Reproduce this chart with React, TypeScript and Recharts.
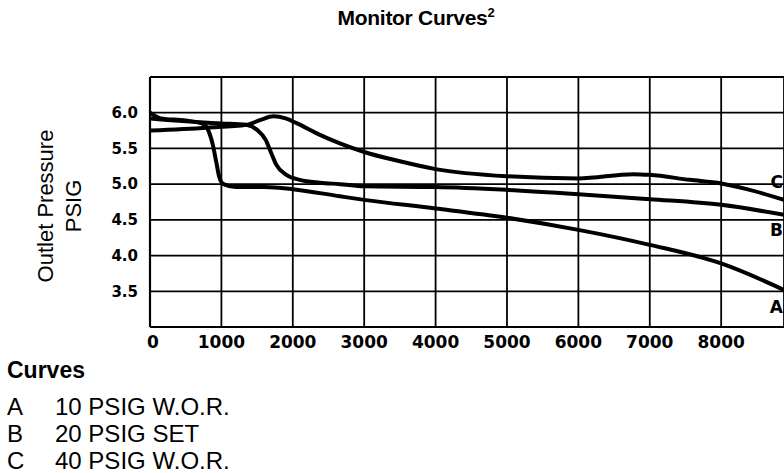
import React from "react";
import { LineChart, Line, XAxis, YAxis, CartesianGrid } from "recharts";

// Flow (x) and outlet pressure (PSIG)
const curveAFlow = [0, 150, 500, 750, 830, 880, 930, 970, 1030, 1200, 1600, 2000, 2660, 3000, 4000, 5000, 6000, 7000, 8000, 8880];
const curveAPressure = [6.0, 5.92, 5.89, 5.84, 5.72, 5.55, 5.3, 5.1, 5.0, 4.96, 4.96, 4.93, 4.83, 4.78, 4.66, 4.53, 4.36, 4.15, 3.89, 3.52];

const curveBFlow = [0, 500, 1000, 1350, 1500, 1620, 1700, 1770, 1910, 2100, 2380, 2660, 3000, 4000, 5000, 6000, 7000, 8000, 8880];
const curveBPressure = [5.92, 5.88, 5.85, 5.83, 5.76, 5.62, 5.43, 5.27, 5.13, 5.06, 5.02, 5.0, 4.97, 4.96, 4.92, 4.86, 4.79, 4.71, 4.57];

const curveCFlow = [0, 800, 1350, 1550, 1730, 1900, 2060, 2380, 2660, 3000, 3500, 4000, 5000, 6000, 6770, 7000, 7560, 8000, 8360, 8880];
const curveCPressure = [5.75, 5.79, 5.83, 5.9, 5.95, 5.92, 5.85, 5.69, 5.57, 5.45, 5.32, 5.21, 5.11, 5.08, 5.14, 5.13, 5.06, 5.01, 4.93, 4.78];

const xTicks = [0, 1000, 2000, 3000, 4000, 5000, 6000, 7000, 8000];
const yTicks = [3.0, 3.5, 4.0, 4.5, 5.0, 5.5, 6.0, 6.5];

const curveLetters = ["A", "B", "C"];
const curveNames = ["10 PSIG W.O.R.", "20 PSIG SET", "40 PSIG W.O.R."];

const build = (xs: number[], ys: number[]) => xs.map((x, i) => ({ x, y: ys[i] }));
const dataA = build(curveAFlow, curveAPressure);
const dataB = build(curveBFlow, curveBPressure);
const dataC = build(curveCFlow, curveCPressure);

const endLabel = (letter: string, len: number, dy: number) => (props: any) => {
  if (props.index !== len - 1) return <g key={`${letter}-${props.index}`} />;
  return (
    <text
      key={letter}
      x={props.x - 1}
      y={props.y + dy}
      textAnchor="end"
      dominantBaseline="central"
      fontFamily="DejaVu Sans"
      fontWeight="bold"
      fontSize={17}
      fill="#000"
    >
      {letter}
    </text>
  );
};

const XTick = (props: any) => {
  const { x, y, payload } = props;
  const dx = payload.value === 0 ? 3 : 0;
  return (
    <text
      x={x + dx}
      y={y}
      dy="0.71em"
      textAnchor="middle"
      fontFamily="DejaVu Sans"
      fontWeight="bold"
      fontSize={17}
      fill="#000"
    >
      {payload.value}
    </text>
  );
};

const YTick = (props: any) => {
  const { x, y, payload } = props;
  if (payload.value === 3.0 || payload.value === 6.5) return <g />;
  return (
    <text
      x={x}
      y={y}
      dy="0.355em"
      textAnchor="end"
      fontFamily="DejaVu Sans"
      fontWeight="bold"
      fontSize={15}
      fill="#000"
    >
      {payload.value.toFixed(1)}
    </text>
  );
};

const YLabel = (props: any) => {
  const vb = props.viewBox || { x: 0, y: 0, width: 0, height: 0 };
  const cy = vb.y + vb.height / 2 + 4;
  return (
    <g>
      <text
        x={53}
        y={cy}
        transform={`rotate(-90 53 ${cy})`}
        textAnchor="middle"
        fontFamily="Liberation Sans"
        fontSize={22}
        fill="#000"
      >
        Outlet Pressure
      </text>
      <text
        x={81}
        y={cy}
        transform={`rotate(-90 81 ${cy})`}
        textAnchor="middle"
        fontFamily="Liberation Sans"
        fontSize={22}
        fill="#000"
      >
        PSIG
      </text>
    </g>
  );
};

export default function App() {
  return (
    <div style={{ position: "fixed", left: 0, top: 0, width: 784, height: 473, overflow: "hidden", background: "#fff" }}>
      <div
        style={{
          position: "absolute",
          left: 416,
          top: 7,
          transform: "translateX(-50%)",
          fontFamily: "Liberation Sans",
          fontWeight: "bold",
          fontSize: 21,
          lineHeight: "21px",
          letterSpacing: -0.3,
          whiteSpace: "nowrap",
          color: "#000",
        }}
      >
        Monitor Curves<sup style={{ fontSize: 13, verticalAlign: "8px", lineHeight: 0 }}>2</sup>
      </div>
      <div style={{ position: "absolute", left: 0, top: 0 }}>
        <LineChart width={784} height={473} margin={{ top: 77, right: 0, bottom: 106, left: 90 }}>
          <CartesianGrid stroke="#000" strokeWidth={1.8} />
          <XAxis
            type="number"
            dataKey="x"
            domain={[0, 8880]}
            ticks={xTicks}
            tickLine={false}
            tickSize={0}
            tickMargin={9}
            height={40}
            stroke="#000"
            strokeWidth={2.2}
            tick={<XTick />}
            interval={0}
          />
          <YAxis
            type="number"
            dataKey="y"
            domain={[3.0, 6.5]}
            ticks={yTicks}
            tickLine={false}
            tickSize={0}
            tickMargin={12}
            width={60}
            stroke="#000"
            strokeWidth={2.2}
            tick={<YTick />}
            interval={0}
            label={<YLabel />}
          />
          <Line
            data={dataA}
            dataKey="y"
            type="monotone"
            stroke="#000"
            strokeWidth={4}
            dot={false}
            isAnimationActive={false}
            label={endLabel(curveLetters[0], dataA.length, 17)}
          />
          <Line
            data={dataB}
            dataKey="y"
            type="monotone"
            stroke="#000"
            strokeWidth={4}
            dot={false}
            isAnimationActive={false}
            label={endLabel(curveLetters[1], dataB.length, 15)}
          />
          <Line
            data={dataC}
            dataKey="y"
            type="monotone"
            stroke="#000"
            strokeWidth={4}
            dot={false}
            isAnimationActive={false}
            label={endLabel(curveLetters[2], dataC.length, -18)}
          />
        </LineChart>
      </div>
      <div
        style={{
          position: "absolute",
          left: 7,
          top: 359,
          fontFamily: "Liberation Sans",
          fontWeight: "bold",
          fontSize: 23,
          lineHeight: "23px",
          color: "#000",
        }}
      >
        Curves
      </div>
      {curveLetters.map((letter, i) => (
        <div
          key={letter}
          style={{
            position: "absolute",
            left: 7,
            top: 395 + i * 27,
            fontFamily: "Liberation Sans",
            fontSize: 24,
            lineHeight: "24px",
            color: "#000",
            whiteSpace: "nowrap",
            display: "flex",
          }}
        >
          <span style={{ width: 48, display: "inline-block" }}>{letter}</span>
          <span>{curveNames[i]}</span>
        </div>
      ))}
    </div>
  );
}
